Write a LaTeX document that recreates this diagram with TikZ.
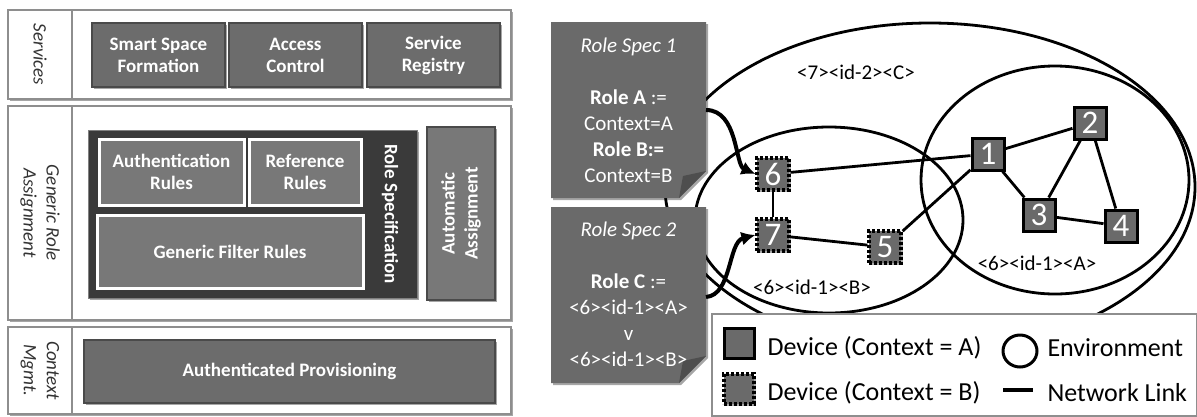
\documentclass[tikz,border=0pt]{standalone}
\usepackage{fontspec}
\setmainfont{Carlito}
\usetikzlibrary{shapes.geometric,arrows.meta,shadows}

\definecolor{rowgray}{HTML}{8E8E8E}
\definecolor{labgray}{HTML}{333333}
\definecolor{boxgray}{HTML}{6C6C6C}
\definecolor{boxedge}{HTML}{4A4A4A}
\definecolor{specdark}{HTML}{3A3A3A}
\definecolor{rulegray}{HTML}{787878}
\definecolor{notegray}{HTML}{6A6A6A}
\definecolor{foldgray}{HTML}{4E4E4E}
\definecolor{devgray}{HTML}{6A6A6A}

\newcommand\setfs[2]{\fontsize{#1}{#2}\selectfont}

\begin{document}
\begin{tikzpicture}[x=1pt,y=-1pt,
  softshadow/.style={drop shadow={shadow xshift=2pt,shadow yshift=-2pt,opacity=.35,fill=black}},
  rowframe/.style={rectangle,draw=rowgray,line width=2.5pt,fill=white,inner sep=0pt,softshadow},
  rowtext/.style={text=labgray,font=\itshape\setfs{19}{23},align=center},
  svcbox/.style={rectangle,draw=boxedge,line width=2pt,fill=boxgray,text=white,
    font=\bfseries\setfs{19}{22},align=center,inner sep=0pt,softshadow},
  rulebox/.style={rectangle,draw=white,line width=3pt,fill=rulegray,text=white,
    font=\bfseries\setfs{19}{22},align=center,inner sep=0pt},
  notetext/.style={text=white,font=\setfs{21}{26},align=center},
  env/.style={ellipse,draw=black,line width=2.8pt,inner sep=0pt},
  dev/.style={rectangle,draw=black,line width=3pt,fill=devgray,text=white,
    minimum size=32pt,inner sep=0pt,font=\setfs{33}{33},softshadow},
  devB/.style={dev,line width=3.2pt,dash pattern=on 2.6pt off 2.4pt},
  link/.style={line width=2.8pt},
  assign/.style={line width=4pt,-{Latex[length=14pt,width=14pt]}},
  envlabel/.style={font=\setfs{21}{21}},
  legtext/.style={font=\setfs{26}{26},anchor=west}
]
\useasboundingbox (0,0) rectangle (1197,416);

% ---------------- layered architecture (left) ----------------
% Services row
\node[rowframe,minimum width=64pt,minimum height=89pt] (svcLab) at (40,54.5) {};
\node[rowframe,minimum width=439pt,minimum height=89pt] (svcBody) at (291.5,54.5) {};
\node[rowtext,rotate=-90] at (svcLab) {Services};
\node[svcbox,minimum width=133pt,minimum height=64pt] (ssf) at (158.5,55) {Smart Space\\Formation};
\node[svcbox,minimum width=133pt,minimum height=64pt] (acc) at (295.5,55) {Access\\Control};
\node[svcbox,minimum width=133pt,minimum height=64pt] (reg) at (433.5,55) {Service\\Registry};

% Generic role assignment row
\node[rowframe,minimum width=64pt,minimum height=214pt] (graLab) at (40,213) {};
\node[rowframe,minimum width=439pt,minimum height=214pt] (graBody) at (291.5,213) {};
\node[rowtext,rotate=-90] at (graLab) {Generic Role\\Assignment};
\node[rectangle,draw=gray,line width=1pt,fill=specdark,minimum width=329pt,minimum height=168pt,
  inner sep=0pt,softshadow] (spec) at (252.5,214) {};
\node[rulebox,minimum width=145pt,minimum height=66pt] (auth) at (171.5,172) {Authentication\\Rules};
\node[rulebox,minimum width=112pt,minimum height=66pt] (ref) at (305,172) {Reference\\Rules};
\node[rulebox,minimum width=266pt,minimum height=73pt] (filt) at (230,251.5) {Generic Filter Rules};
\node[rotate=-90,text=white,font=\bfseries\setfs{19}{22}] (specTitle) at (390,214) {Role Specification};
\node[svcbox,minimum width=68pt,minimum height=173pt,fill=rulegray] (auto) at (461,213.5) {};
\node[rotate=90,text=white,font=\bfseries\setfs{19}{23},align=center] at (auto) {Automatic\\Assignment};

% Context management row
\node[rowframe,minimum width=64pt,minimum height=87pt] (ctxLab) at (40,370.5) {};
\node[rowframe,minimum width=439pt,minimum height=87pt] (ctxBody) at (291.5,370.5) {};
\node[rowtext,rotate=-90] at (ctxLab) {Context\\Mgmt.};
\node[svcbox,minimum width=411pt,minimum height=63pt] (prov) at (289.5,371.5) {Authenticated Provisioning};

% ---------------- environments and devices (right) ----------------
\node[env,minimum width=530pt,minimum height=328pt] (envC) at (930,187) {};
\node[env,minimum width=268pt,minimum height=228pt] (envA) at (1055,180) {};
\node[env,minimum width=268pt,minimum height=186pt] (envB) at (829,220) {};

\node[envlabel] (labC) at (856,72) {<7><id-2><C>};
\node[envlabel] (labA) at (1037,263) {<6><id-1><A>};
\node[envlabel] (labB) at (812,287) {<6><id-1><B>};

\node[devB] (d6) at (773,174) {6};
\node[devB] (d7) at (773,235) {7};
\node[devB] (d5) at (885,247) {5};
\node[dev] (d1) at (988,154) {1};
\node[dev] (d2) at (1090,123) {2};
\node[dev] (d3) at (1039,215) {3};
\node[dev] (d4) at (1121,226) {4};

\draw[link] (d6) -- (d1);
\draw[link] (d6) -- (d7);
\draw[link] (d7) -- (d5);
\draw[link] (d5) -- (d1);
\draw[link] (d1) -- (d2);
\draw[link] (d1) -- (d3);
\draw[link] (d2) -- (d3);
\draw[link] (d2) -- (d4);
\draw[link] (d3) -- (d4);

% Role specification notes with folded corners
\fill[notegray,softshadow] (551,22) -- (706,22) -- (706,171) -- (679,198) -- (551,198) -- cycle;
\fill[foldgray] (706,171) -- (679,198) -- (683,176) -- cycle;
\node[notetext] (note1) at (628.5,110) {\textit{Role Spec 1}\\[26pt]\textbf{Role A} :=\\Context=A\\\textbf{Role B:=}\\Context=B};

\fill[notegray,softshadow] (551,207) -- (706,207) -- (706,356) -- (679,383) -- (551,383) -- cycle;
\fill[foldgray] (706,356) -- (679,383) -- (683,361) -- cycle;
\node[notetext] (note2) at (628.5,294) {\textit{Role Spec 2}\\[26pt]\textbf{Role C} :=\\<6><id-1><A>\\v\\<6><id-1><B>};

\coordinate (from1) at (706,110);
\coordinate (from2) at (706,297);
\draw[assign] (from1) .. controls (738,110) and (735,165) .. (d6.west);
\draw[assign] (from2) .. controls (732,295) and (728,242) .. (d7.west);

% ---------------- legend ----------------
\node[rectangle,draw=rowgray,line width=2pt,fill=white,minimum width=485pt,minimum height=102pt,
  inner sep=0pt] (legend) at (954.5,365) {};
\node[dev,minimum size=30pt] (legA) at (739,343) {};
\node[legtext] (legAtext) at (764,348) {Device (Context = A)};
\node[devB,minimum size=30pt] (legB) at (739,389) {};
\node[legtext] (legBtext) at (764,393) {Device (Context = B)};
\node[ellipse,draw=black,line width=3pt,minimum width=34pt,minimum height=32pt,inner sep=0pt] (legE) at (1020,351) {};
\node[legtext] (legEtext) at (1044,348) {Environment};
\coordinate (legL1) at (1003,390);
\coordinate (legL2) at (1033,390);
\draw[line width=4pt] (legL1) -- (legL2);
\node[legtext] (legLtext) at (1044,393) {Network Link};
\end{tikzpicture}
\end{document}
